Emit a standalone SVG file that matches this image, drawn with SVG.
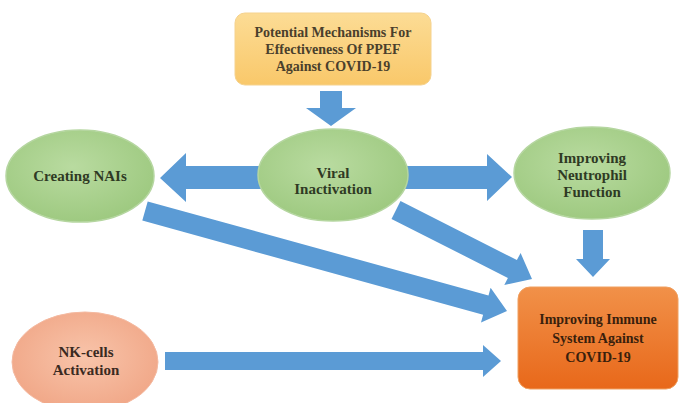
<svg xmlns="http://www.w3.org/2000/svg" width="679" height="403" viewBox="0 0 679 403">
<defs>
<linearGradient id="gTop" x1="0" y1="0" x2="0" y2="1"><stop offset="0" stop-color="#fcdc95"/><stop offset="1" stop-color="#f9c86a"/></linearGradient>
<radialGradient id="gGreen" cx="0.45" cy="0.4" r="0.65"><stop offset="0" stop-color="#b9dba0"/><stop offset="1" stop-color="#9cc87e"/></radialGradient>
<radialGradient id="gNK" cx="0.5" cy="0.45" r="0.6"><stop offset="0" stop-color="#f8c4aa"/><stop offset="1" stop-color="#f0a585"/></radialGradient>
<linearGradient id="gImm" x1="0" y1="0" x2="0" y2="1"><stop offset="0" stop-color="#f19149"/><stop offset="1" stop-color="#e8681a"/></linearGradient>
</defs>
<style>
.arr{fill:#5b9bd5;}
.ell{fill:url(#gGreen);stroke:#b5d6a0;stroke-width:1.5;}
text{font-family:"Liberation Serif","Times New Roman",serif;font-weight:bold;text-anchor:middle;}
.tg{fill:#2f3a24;font-size:15px;}
.tt{fill:#4a3f2c;font-size:14px;}
.ti{fill:#3a1f0c;font-size:14px;}
.tn{fill:#3a2a22;font-size:15px;}
</style>
<g id="connectors">
<polygon class="arr" points="320,91 342,91 342,108 356,108 331,126 306,108 320,108"/>
<polygon class="arr" points="262,166 186,166 186,153 160,178 186,202 186,189 262,189"/>
<polygon class="arr" points="405,166 487,166 487,154 512,177 487,201 487,189 405,189"/>
<polygon class="arr" points="583,230 603,230 603,259 610,259 593,277 576,259 583,259"/>
<polygon class="arr" points="165,352 483,352 483,345 501,361 483,377 483,370 165,370"/>
<polygon class="arr" points="147.7,201.4 488.5,295.5 490.6,287.8 507,311 481.0,322.5 483.1,314.7 142.3,220.6"/>
<polygon class="arr" points="400.5,201.1 516.9,260.1 520.6,253.0 532,279 504.3,285.1 507.9,277.9 391.5,218.9"/>
</g>
<g id="top">
<rect x="235" y="13" width="196" height="72" rx="10" fill="url(#gTop)" stroke="#f5d28e" stroke-width="1"/>
<text class="tt" x="333" y="37">Potential Mechanisms  For</text>
<text class="tt" x="333" y="54">Effectiveness Of PPEF</text>
<text class="tt" x="333" y="71">Against  COVID-19</text>
</g>
<g id="viral">
<ellipse class="ell" cx="333" cy="175" rx="75" ry="46"/>
<text class="tg" x="333" y="178">Viral</text>
<text class="tg" x="333" y="194">Inactivation</text>
</g>
<g id="nais">
<ellipse class="ell" cx="80" cy="176" rx="74" ry="46"/>
<text class="tg" x="80" y="181">Creating NAIs</text>
</g>
<g id="neutrophil">
<ellipse class="ell" cx="592" cy="173" rx="78" ry="46"/>
<text class="tg" x="592" y="163">Improving</text>
<text class="tg" x="592" y="180">Neutrophil</text>
<text class="tg" x="592" y="197">Function</text>
</g>
<g id="immune">
<rect x="518" y="287" width="160" height="102" rx="12" fill="url(#gImm)" stroke="#f0a060" stroke-width="1"/>
<text class="ti" x="598" y="324">Improving Immune</text>
<text class="ti" x="598" y="343">System Against</text>
<text class="ti" x="598" y="362">COVID-19</text>
</g>
<g id="nk">
<ellipse cx="85" cy="362" rx="73" ry="50" fill="url(#gNK)" stroke="#f4b9a0" stroke-width="1"/>
<text class="tn" x="86" y="357">NK-cells</text>
<text class="tn" x="86" y="375">Activation</text>
</g>
</svg>
